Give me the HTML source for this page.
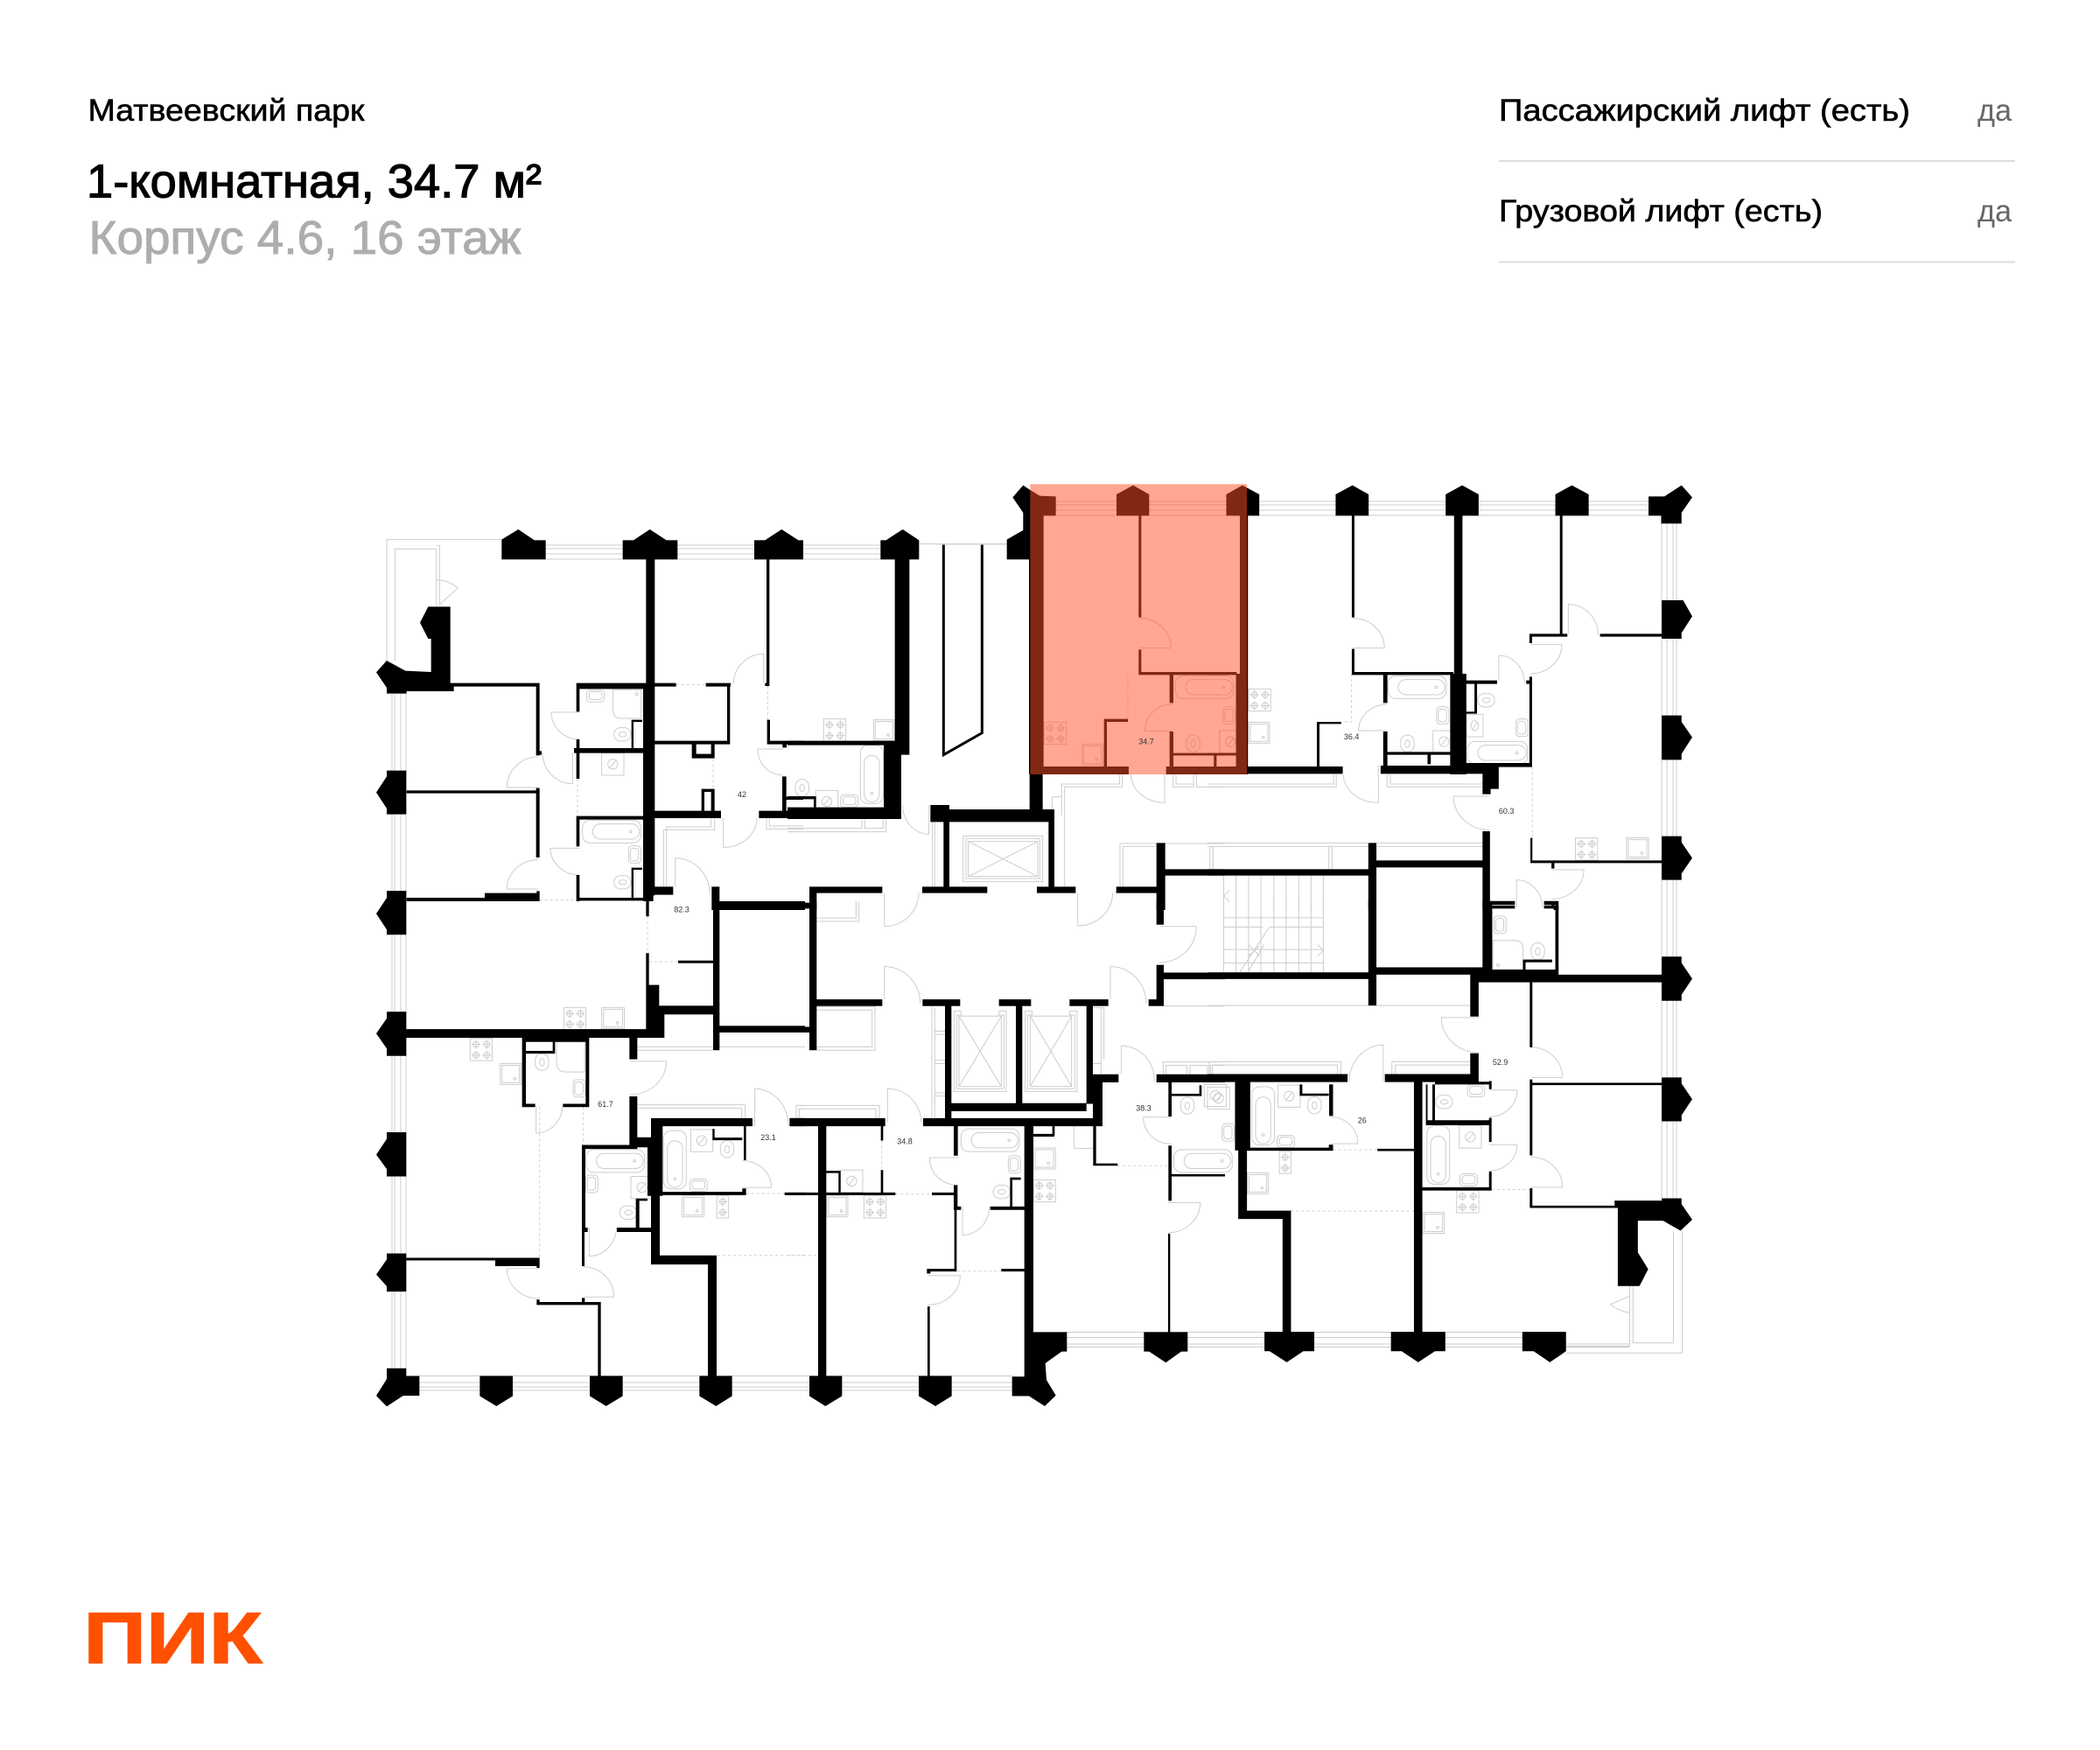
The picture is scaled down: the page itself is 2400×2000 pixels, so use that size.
<!DOCTYPE html>
<html lang="ru"><head><meta charset="utf-8"><title>Планировка</title>
<style>
html,body{margin:0;padding:0;background:#fff}
svg{display:block}
text{font-family:"Liberation Sans","Noto Sans CJK SC",sans-serif}
.l{fill:none;stroke:#cdcdcd;stroke-width:1}
.l path,.l rect,.l circle,.l ellipse,defs *{vector-effect:non-scaling-stroke}
.d{fill:none;stroke:#cfcfcf;stroke-width:1;stroke-dasharray:3 3;vector-effect:non-scaling-stroke}
.lb{font-size:9px;fill:#333;text-anchor:middle}
</style></head><body>
<svg width="2400" height="2000" viewBox="0 0 2400 2000" xmlns="http://www.w3.org/2000/svg">
<defs>
<g id="st"><rect width="76" height="76"/><circle cx="20" cy="20" r="10"/><circle cx="57" cy="20" r="10"/><circle cx="20" cy="57" r="10"/><circle cx="57" cy="57" r="10"/><path d="M5 20H35M20 5V35M42 20H72M57 5V35M5 57H35M20 42V72M42 57H72M57 42V72"/></g>
<g id="st2"><rect width="40" height="76"/><circle cx="20" cy="20" r="10"/><circle cx="20" cy="57" r="10"/><path d="M5 20H35M20 5V35M5 57H35M20 42V72"/></g>
<g id="ov"><rect width="72" height="72"/><rect x="6" y="6" width="60" height="60"/><circle cx="50" cy="52" r="4"/></g>
<g id="wm"><rect width="76" height="76"/><circle cx="38" cy="38" r="17"/><path d="M28 50L48 26"/></g>
<g id="wc"><rect width="58" height="46" rx="23"/><ellipse cx="30" cy="23" rx="13" ry="8"/></g>
<g id="wcv"><rect width="46" height="58" rx="23"/><ellipse cx="23" cy="30" rx="8" ry="13"/></g>
<g id="bh"><rect width="200" height="78" rx="26"/><rect x="35" y="13" width="160" height="52" rx="26"/><circle cx="165" cy="39" r="4"/></g>
<g id="bv"><rect width="78" height="200" rx="26"/><rect x="13" y="35" width="52" height="160" rx="26"/><circle cx="39" cy="165" r="4"/></g>
<g id="si"><rect width="60" height="42" rx="12"/><rect x="8" y="6" width="44" height="28" rx="10"/></g>
<g id="siv"><rect width="42" height="60" rx="12"/><rect x="6" y="8" width="28" height="44" rx="10"/></g>
</defs>

<!-- long window lines -->
<g class="l">
<path d="M448 793V1564M451 793V1564M458 793V1564M464 793V1564"/>
<path d="M1899 598V1370M1905 598V1370M1912 598V1370M1916 598V1370"/>
<path d="M479 1572.5H1157M479 1580H1157M479 1585H1157M479 1589H1157"/>
<path d="M1219 1522.5H1740M1219 1528.5H1740M1219 1536H1862M1219 1539.5H1862"/>
<path d="M1176 573H1884M1176 577H1884M1176 583H1884M1176 589H1884"/>
<path d="M623 623H1030M623 627H1030M623 633H1030M623 639H1030"/>
<path d="M1070 622H1150"/>
</g>

<!-- Z3 -->
<g transform="translate(420,540) scale(.33333,.33333)">
<g class="l">
<path d="M460 230H66V645M94 645V262H236M236 250H247V455M236 262V455M236 368Q275 368 310 396L245 455"/>
<path d="M727 822H630A97 93 0 0 0 727 915M585 975A107 105 0 0 0 478 1080H585M600 960A103 107 0 0 0 703 1067V960M727 1288H627A100 92 0 0 0 727 1380M585 1328A107 100 0 0 0 478 1428H585M1358 722V622A103 103 0 0 0 1255 725M1425 948H1338A87 90 0 0 0 1425 1038M1220 1185V1285A115 100 0 0 0 1335 1185M1055 1420V1322A118 120 0 0 1 1173 1445"/>
<path d="M1190 1185V1225H1015V1420M1178 1185V1215H1025V1420M1368 1185V1222H1494M1378 1185V1212H1494"/>
<path d="M842 745H938V843H870Q842 843 842 815Z"/><circle cx="923" cy="760" r="5"/>
<use href="#si" x="752" y="745"/><use href="#wc" x="845" y="875"/><use href="#wm" x="803" y="962"/><use href="#bh" x="737" y="1192"/><use href="#siv" x="895" y="1280"/><use href="#wc" x="845" y="1382"/>
</g>
<path class="d" d="M1058 728H1160M1372 732V848M1185 982V1085M720 1050V1178M590 1465H716"/>
<path d="M460 230L517 195L572 232H611V298H460ZM875 232H912L968 195L1025 232H1063V298H875ZM1326 232H1363L1420 195L1477 232H1494V298H1326Z
M955 298H985V1450H955ZM945 730H985V1185H945ZM945 1185H980V1470H945ZM965 1420H1048V1448H965Z
M180 515L208 460H284V722H296V750H134V758H66V738L30 685L66 645L130 680L218 684V570H208Z
M296 722H590V734H296ZM578 722H590V970H578ZM580 955H597V968H580Z
M716 722H955V742H716ZM716 722H727V820H716ZM716 915H727V1050H716ZM708 945H955V962H708ZM905 848H912V945H905ZM905 848H942V855H905Z
M578 1082H590V1320H578ZM134 1090H580V1100H134ZM66 1022H133V1172H66V1152L30 1097L66 1042Z
M716 1178H955V1190H716ZM716 1178H727V1282H716ZM716 1380H727V1470H716ZM716 1458H955V1468H716ZM905 1355H912V1458H905ZM905 1355H942V1362H905Z
M580 1435H590V1468H580ZM134 1458H590V1470H134ZM402 1442H590V1470H402Z
M985 722H1058V734H985ZM1160 722H1245V734H1160ZM1233 722H1243V930H1233ZM985 920H1243V932H985ZM1112 930H1127V980H1112ZM1178 930H1190V980H1178ZM1112 965H1190V980H1112ZM1145 1085H1155V1160H1145ZM1178 1085H1190V1160H1178ZM1145 1085H1190V1095H1145ZM985 1160H1212V1185H985Z
M1368 298H1378V732H1368ZM1363 722H1378V732H1363ZM1370 848H1380V930H1370ZM1370 920H1494V932H1370ZM1423 932H1437V943H1423ZM1422 1042H1436V1160H1422ZM1436 1112H1494V1122H1436ZM1342 1160H1494V1185H1342Z
M1180 1420H1207V1500H1180ZM1207 1475H1500V1500H1207Z"/>
</g>

<!-- Z4 -->
<g transform="translate(900,540) scale(.33333,.33333)">
<g class="l">
<path d="M451 245H752"/>
<path d="M395 1140A90 100 0 0 0 485 1240V1140M1210 500A105 102 0 0 1 1315 602H1210M1318 795A93 92 0 0 0 1225 887H1318M1178 1035A115 97 0 0 0 1293 1132V1035"/>
<path d="M1138 1035V1068H940V1175M1148 1035V1078H950V1420M908 1180V1112H940M1322 1035V1078H1392V1035M1332 1035V1068H1392M1402 1035V1078H1500M0 1220H255V1190M265 1190V1220H328V1190M338 1190V1232H0M497 1190V1420M505 1190V1420"/>
<rect x="602" y="1246" width="273" height="157"/><rect x="612" y="1255" width="253" height="137"/><rect x="620" y="1265" width="238" height="120"/><path d="M620 1265L858 1385M858 1265L620 1385"/>
<path d="M1140 1420V1272H1500M1150 1420V1282H1265M1448 1282V1360M1458 1282V1360"/>
<use href="#st" x="124" y="845"/><use href="#ov" x="295" y="848"/><use href="#bv" x="250" y="935"/><use href="#wcv" x="27" y="1052"/><use href="#wm" x="97" y="1090"/><use href="#si" x="182" y="1105"/>
<use href="#st" x="880" y="856"/><use href="#ov" x="1010" y="932"/><use href="#bh" x="1330" y="697"/><use href="#wcv" x="1368" y="900"/><use href="#wm" x="1482" y="885"/>
</g>
<path class="d" d="M1167 692V845"/>
<path d="M319 232H338L395 195L451 232V298H319ZM368 298H418V968H368ZM330 930H390V1188H330ZM0 1148H390V1188H0ZM0 920H368V935H0ZM0 1110H98V1120H0ZM90 1110H98V1148H90Z
M752 230L808 198V138L772 85L808 44L832 60V298H752ZM828 298H832V1035H828Z
M832 60L865 80L920 82V148H832ZM832 148H878V1035H832ZM1128 75L1185 44L1240 75V148H1128Z
M1204 148H1213V497H1204ZM1204 607H1213V690H1204ZM1204 684H1500V694H1204ZM1310 690H1323V790H1310ZM1310 888H1323V1010H1310ZM1323 962H1500V970H1323ZM1462 962H1470V1010H1462ZM878 1008H1170V1035H878ZM1085 848H1095V1010H1085ZM1085 845H1167V855H1085ZM1298 1008H1500V1035H1298Z
M830 1035H875V1198H830ZM490 1140H555V1188H490ZM490 1155H915V1198H490ZM535 1188H555V1420H535ZM895 1178H915V1420H895ZM462 1420H685V1442H462ZM855 1420H988V1442H855Z
M1265 1270H1295V1500H1265ZM1295 1360H1500V1382H1295ZM1127 1420H1265V1442H1127ZM75 1420H100V1500H75ZM100 1420H325V1442H100ZM0 1475H75V1495H0Z"/>
<path fill="none" stroke="#000" stroke-width="3" style="vector-effect:non-scaling-stroke" d="M535 248V968L667 893V248"/>
</g>

<!-- Z5 -->
<g transform="translate(1380,540) scale(.3698,.33333)">
<g class="l">
<path d="M450 500A97 103 0 0 1 547 602H450M555 795A88 90 0 0 0 467 885H555M420 1035A108 97 0 0 0 528 1132V1005M998 590H1095A97 100 0 0 1 998 690M1115 553V452A92 105 0 0 1 1207 557M900 713V627A80 97 0 0 1 980 722M870 1110H760A110 115 0 0 0 870 1225M1065 1362H1163A98 100 0 0 1 1065 1462M955 1490V1397A80 95 0 0 1 1035 1490"/>
<path d="M0 1068H390V1035M0 1078H398V1035M555 1035V1078H850M565 1035V1068H850M0 1270H497M522 1270H850M0 1282H497M522 1282H850M17 1282V1360M375 1282V1360M385 1282V1360"/>
<path d="M50 1382V1500M88 1382V1500M127 1382V1500M165 1382V1500M205 1382V1500M243 1382V1500M282 1382V1500M320 1382V1500M358 1382V1500M68 1432L50 1452L68 1472"/>
<g transform="translate(48,803) scale(.9,1)"><use href="#siv"/></g><g transform="translate(37,885) scale(.9,1)"><use href="#wm"/></g><g transform="translate(127,742) scale(.9,1)"><use href="#st"/></g><g transform="translate(127,856) scale(.9,1)"><use href="#ov"/></g>
<g transform="translate(558,697) scale(.9,1)"><use href="#bh"/></g><g transform="translate(708,803) scale(.9,1)"><use href="#siv"/></g><g transform="translate(597,900) scale(.9,1)"><use href="#wcv"/></g><g transform="translate(697,885) scale(.9,1)"><use href="#wm"/></g>
<g transform="translate(835,758) scale(.9,1)"><use href="#wc"/></g><g transform="translate(800,830) scale(.68,1)"><use href="#wm"/></g><g transform="translate(953,845) scale(.9,1)"><use href="#siv"/></g><g transform="translate(803,922) scale(.93,1)"><use href="#bh"/></g>
<g transform="translate(1137,1253) scale(.9,1)"><use href="#st"/></g><g transform="translate(1295,1253) scale(.95,1)"><use href="#ov"/></g>
</g>
<path class="d" d="M445 690V855H413M1004 1010V1250"/>
<path d="M58 75L108 44L160 75V148H58ZM100 148H125V1035H100ZM88 690H125V1010H88ZM0 684H90V694H0ZM0 1008H100V1035H0ZM20 962H28V1010H20ZM0 962H90V970H0Z
M125 1008H418V1033H125ZM338 855H346V1010H338ZM338 855H413V862H338Z
M396 75L448 44L498 75V148H396ZM446 148H454V497H446ZM446 605H454V690H446ZM446 684H760V694H446ZM543 690H556V790H543ZM543 888H556V1010H543ZM556 958H750V968H556ZM680 968H690V1000H680ZM535 1005H900V1033H535Z
M762 148H788V710H762ZM750 690H800V1035H750ZM736 75L787 44L838 75V148H736Z
M788 713H895V725H788ZM825 725H833V827H825ZM800 820H833V827H800Z
M995 700H1003V1010H995ZM985 713H1003V725H985ZM800 996H1003V1010H800ZM850 1010H900V1085H850ZM850 1085H875V1103H850Z
M1075 75L1126 44L1178 75V148H1075ZM1089 148H1097V555H1089ZM995 553H1112V563H995ZM995 563H1003V585H995ZM1213 553H1404V563H1213Z
M1363 82H1412L1465 44L1498 85L1465 138V175H1402V148H1363ZM1404 438H1470L1498 493L1465 550V570H1404ZM1404 833H1465V855L1498 908L1465 965V985H1404ZM1404 1247H1465V1268L1498 1322L1465 1375V1397H1404Z
M850 1230H873V1500H850ZM998 1253H1004V1335H998ZM998 1330H1404V1339H998ZM1063 1339H1072V1358H1063ZM497 1270H522V1500H497ZM522 1330H850V1354H522ZM0 1360H497V1382H0ZM873 1485H950V1495H873ZM1040 1485H1085V1495H1040ZM1063 1470H1072V1495H1063ZM1070 1495H1085V1500H1070Z"/>
</g>

<!-- Z6 -->
<g transform="translate(420,1030) scale(.33333,.3826)">
<g class="l">
<path d="M900 478H1025A125 100 0 0 1 900 578M1328 672V560A115 110 0 0 1 1443 670M1285 775A100 80 0 0 1 1385 855H1285M578 612V692A90 80 0 0 0 668 612M760 975V1060A93 85 0 0 0 853 975M590 1097H478A110 90 0 0 0 590 1187M740 1092A105 90 0 0 1 845 1182H740"/>
<path d="M925 435H1500M925 445H1185M925 608H1295V648M925 618H1283V648M1470 648V610H1500M1480 648V620H1500"/>
<path d="M648 420H745V510H680Q648 510 648 480Z"/>
<g transform="translate(352,410) scale(1,.87)"><use href="#st"/></g><g transform="translate(455,485) scale(1,.87)"><use href="#ov"/></g><g transform="translate(673,318) scale(1,.87)"><use href="#st"/></g><g transform="translate(803,318) scale(1.08,.87)"><use href="#ov"/></g>
<g transform="translate(575,455) scale(1,.87)"><use href="#wcv"/></g><g transform="translate(705,533) scale(1,.87)"><use href="#siv"/></g><g transform="translate(750,742) scale(1,.87)"><use href="#bh"/></g><g transform="translate(748,818) scale(1,.87)"><use href="#siv"/></g><g transform="translate(903,822) scale(1,.87)"><use href="#wm"/></g><g transform="translate(865,910) scale(1,.87)"><use href="#wc"/></g>
<g transform="translate(1015,685) scale(1,.87)"><use href="#bv"/></g><g transform="translate(1108,682) scale(1,.87)"><use href="#wm"/></g><g transform="translate(1210,715) scale(1,.87)"><use href="#wcv"/></g><g transform="translate(1105,830) scale(1,.87)"><use href="#si"/></g><g transform="translate(1078,880) scale(1.05,.87)"><use href="#ov"/></g><g transform="translate(1198,880) scale(1,.87)"><use href="#st2"/></g>
</g>
<path class="d" d="M590 615V1065M740 615V728M960 45V155M965 181H1065M1298 873H1430M1200 1058H1500"/>
<path d="M66 -31H133V100H66V85L30 37L66 -10ZM66 330H133V462H66V440L30 395L66 350ZM66 690H133V822H66V800L30 757L66 710ZM66 1052H133V1166H66V1150L30 1115L66 1070ZM66 1395H133V1418H178V1477H122L66 1509L30 1477L66 1427Z
M385 1418H498V1478L442 1508L385 1478ZM762 1418H875V1478L818 1508L762 1478ZM1138 1418H1250V1478L1195 1508L1138 1478Z
M133 382H1018V408H133ZM955 250H1000V312H1185V338H1018V408H955ZM955 0H965V45H955ZM955 155H965V250H955ZM1065 177H1185V185H1065ZM1185 0H1207V445H1185ZM1207 0H1500V25H1207ZM1207 372H1500V392H1207Z
M530 408H760V420H530ZM530 420H543V615H530ZM530 605H575V615H530ZM670 605H760V615H670ZM748 408H760V615H748ZM635 420H643V455H635ZM543 447H640V455H543Z
M898 408H925V472H898ZM898 583H925V730H898ZM925 705H975V735H925ZM735 728H925V740H735ZM735 740H747V975H735ZM735 975H755V988H735ZM735 988H744V1090H735ZM855 975H975V988H855ZM920 888H932V975H920ZM920 888H960V895H920Z
M972 648H1012V880H972ZM972 648H1320V672H972ZM960 735H1012V880H960ZM972 880H1002V1085H972ZM1000 868H1290V878H1000ZM1285 858H1298V878H1285ZM1290 672H1298V773H1290ZM1183 680H1190V712H1183ZM1183 706H1285V714H1183ZM1430 870H1500V878H1430ZM1447 648H1500V672H1447Z
M972 1058H1195V1085H972ZM1167 1058H1197V1420H1167Z
M133 1065H590V1073H133ZM438 1065H590V1090H438ZM580 1090H590V1095H580ZM580 1197H800V1206H580ZM580 1190H590V1205H580ZM735 1185H745V1200H735ZM790 1197H800V1420H790Z"/>
</g>

<!-- Z7 -->
<g transform="translate(900,1030) scale(.33333,.3826)">
<g class="l">
<path d="M332 -25V75A118 100 0 0 0 450 -25M995 -25V73A118 98 0 0 0 1115 -25M1275 75H1402A125 108 0 0 1 1275 183M332 293V195A122 110 0 0 1 455 305M1107 293V195A122 112 0 0 1 1230 307M1145 517V432A112 100 0 0 1 1257 540M343 660V560A115 100 0 0 1 458 660M585 766H487A98 80 0 0 0 585 848M600 912V997A92 85 0 0 0 692 912M480 1118H592A112 88 0 0 1 480 1206M1315 645H1220A95 80 0 0 0 1315 725M1305 900H1415A110 90 0 0 1 1305 990"/>
<path d="M100 60H245V0M100 50H235V0M100 315H300V445H100M100 325H290V435H100M30 648V610H315V648M40 648V620H303V648"/>
<path d="M495 313V645M505 318V645M505 388H540M505 398H540M505 475H540M505 485H540M505 572H540M505 582H540M1047 318H1085V472M1075 318V515M1047 485H1075"/>
<rect x="588" y="343" width="145" height="210"/><path d="M588 343L733 553M733 343L588 553"/><path d="M572 328H595V340H580V560H742V340H725V328H750V568H572Z"/>
<rect x="832" y="343" width="142" height="210"/><path d="M832 343L974 553M974 343L832 553"/><path d="M815 328H838V340H823V560H985V340H968V328H993V568H815Z"/>
<path d="M1290 313H1500M1288 517V480H1500M1298 517V490H1370V517M1380 517V490H1440V517M1450 517V490H1500M982 672V738H1048"/>
<g transform="translate(595,680) scale(1,.87)"><use href="#bh"/></g><g transform="translate(757,760) scale(1,.87)"><use href="#siv"/></g><g transform="translate(705,848) scale(1,.87)"><use href="#wc"/></g><g transform="translate(843,737) scale(1.05,.87)"><use href="#ov"/></g><g transform="translate(843,832) scale(1,.87)"><use href="#st"/></g>
<g transform="translate(182,803) scale(1,.87)"><use href="#wm"/></g><g transform="translate(135,880) scale(1,.87)"><use href="#ov"/></g><g transform="translate(262,880) scale(1,.87)"><use href="#st"/></g><g transform="translate(1348,585) scale(1,.87)"><use href="#wcv"/></g><g transform="translate(1440,555) scale(1,.87)"><use href="#wm"/></g><g transform="translate(1325,742) scale(1,.87)"><use href="#bh"/></g>
</g>
<path class="d" d="M323 715V803M370 875H495M583 1105H733M1132 790H1305M0 1058H105"/>
<path d="M75 0H100V445H75ZM0 375H75V392H0ZM100 293H325V313H100ZM463 293H592V313H463ZM725 293H835V313H725ZM967 293H1100V313H967ZM1238 293H1290V313H1238ZM1265 190H1290V313H1265ZM1265 0H1290V70H1265ZM1290 213H1500V233H1290Z
M540 313H562V650H540ZM783 313H805V605H783ZM1025 313H1047V605H1025ZM1045 517H1135V541H1045ZM1047 541H1080V670H1047ZM562 603H1025V627H562ZM465 648H1080V672H465ZM1053 627H1080V648H1053Z
M8 648H335V672H8ZM105 672H133V1420H105ZM320 672H328V715H320ZM320 803H328V875H320ZM0 870H370V878H0ZM133 805H180V812H133ZM175 805H182V870H175ZM495 870H583V878H495ZM570 848H583V915H570ZM570 912H595V922H570ZM572 922H580V1100H572ZM480 1098H580V1106H480ZM478 1098H490V1112H478ZM480 1210H488V1420H480ZM570 672H584V760H570Z
M695 912H812V922H695ZM763 825H771V912H763ZM763 825H800V832H763Z
M812 672H843V1420H812ZM812 1420H770V1478H828L882 1508L920 1476L888 1430L884 1380L940 1345H958V1287H843V1420Z
M733 1098H812V1106H733ZM843 695H915V703H843ZM908 672H916V700H908ZM1048 672H1058V790H1048ZM1048 783H1132V790H1048Z
M1222 1287H1372V1345H1350L1297 1378L1240 1345H1222ZM75 1418H187V1478L130 1508L75 1478ZM450 1418H563V1478L507 1508L450 1478Z
M1265 517H1500V541H1265ZM1306 541H1317V643H1306ZM1306 730H1317V895H1306ZM1305 993H1312V1290H1305ZM1312 815H1500V822H1312ZM1412 550H1420V580H1412ZM1317 575H1420V582H1317Z"/>
</g>

<!-- Z8 -->
<g transform="translate(1380,1029.7) scale(.3698,.3826)">
<g class="l">
<path d="M0 312H812M5 517V480H412V517M15 517V490H402V517M570 517V480H812M580 517V490H812"/>
<path d="M543 540V430A105 110 0 0 0 438 540M838 348H723A115 105 0 0 0 838 453M1000 437A97 90 0 0 1 1097 527H1000M870 565H957A87 80 0 0 1 870 645M870 728H957A87 78 0 0 1 870 806M1000 765A97 90 0 0 1 1097 855H1000M380 645A85 80 0 0 1 465 725H380"/>
<path d="M50 0V212M88 0V212M127 0V212M165 0V212M205 0V212M243 0V212M282 0V212M320 0V212M358 0V212M50 50H358M50 78H170M190 78H358M50 145H358M50 185H358M100 212L190 80M125 212L175 130M125 130L145 148L125 165M160 135L145 148L160 165M340 130L358 148L340 165"/>
<path d="M1108 1350H1467V985M1305 1150V1330H1108M1315 1150V1320H1440V985M1305 1180L1245 1205Q1270 1225 1305 1230"/>
<path d="M882 118H950Q975 118 975 145V205H882Z"/><circle cx="898" cy="192" r="4"/>
<g transform="translate(885,45) scale(.9,.87)"><use href="#siv"/></g><g transform="translate(1000,125) scale(.9,.87)"><use href="#wcv"/></g><g transform="translate(-10,548) scale(.9,.87)"><use href="#wm"/></g><g transform="translate(218,550) scale(.9,.87)"><use href="#wm"/></g><g transform="translate(137,555) scale(.9,.87)"><use href="#bv"/></g><g transform="translate(310,585) scale(.9,.87)"><use href="#wcv"/></g><g transform="translate(215,700) scale(.9,.87)"><use href="#si"/></g><g transform="translate(222,748) scale(.9,.87)"><use href="#st2"/></g><g transform="translate(123,812) scale(.9,.87)"><use href="#ov"/></g>
<g transform="translate(45,665) scale(.9,.87)"><use href="#siv"/></g>
<g transform="translate(778,672) scale(.9,.87)"><use href="#wm"/></g><g transform="translate(678,672) scale(.9,.87)"><use href="#bv"/></g><g transform="translate(780,815) scale(.9,.87)"><use href="#si"/></g><g transform="translate(803,548) scale(.9,.87)"><use href="#si"/></g><g transform="translate(705,580) scale(.9,.87)"><use href="#wc"/></g><g transform="translate(770,865) scale(.9,.87)"><use href="#st"/></g><g transform="translate(665,930) scale(.93,.87)"><use href="#ov"/></g>
</g>
<path class="d" d="M388 743H525M258 926H638M878 862H996"/>
<path d="M0 213H500V233H0ZM497 0H522V312H497ZM522 198H850V220H522ZM850 0H880V235H850ZM812 220H1404V243H812ZM812 220H838V345H812ZM812 455H838V545H812ZM1075 10H1085V220H1075ZM975 175H1065V183H975ZM975 183H983V210H975ZM880 205H1075V220H880ZM880 0H950V12H880ZM1040 0H1085V12H1040Z
M1404 166H1465V185L1498 232L1465 280V298H1404Z
M996 243H1004V437H996ZM996 533H1004V760H996ZM996 858H1004V917H996ZM1004 543H1404V550H1004ZM996 910H1270V917H996Z
M1258 895H1404V888H1465V905L1498 952L1462 985L1408 955H1330V1050L1362 1100L1335 1150H1268V915H1258ZM1404 527H1465V545L1498 592L1465 640V658H1404Z
M0 517H433V541H0ZM548 517H838V541H548ZM85 541H132V745H85ZM95 745H122V950H95ZM95 925H258V950H95ZM232 925H258V1290H232ZM122 737H388V746H122ZM375 728H388V746H375ZM376 548H388V642H376ZM285 548H293V580H285ZM285 575H375V582H285Z
M525 740H640V747H525ZM638 541H664V1290H638ZM695 548H703V655H695ZM675 548H680V655H675ZM675 655H878V670H675ZM870 538H878V562H870ZM703 540H870V548H703ZM870 648H878V720H870ZM870 808H878V865H870ZM664 855H878V865H664Z
M176 1287H330V1345H296L245 1378L192 1345H176ZM567 1287H735V1345H703L651 1378L600 1345H567ZM973 1287H1108V1345L1058 1378L1008 1345H973Z"/>
</g>

<!-- highlight -->
<rect x="1177.3" y="553.3" width="247.8" height="331.7" fill="#ff5028" fill-opacity=".5"/>

<!-- area labels -->
<g class="lb">
<text x="1310" y="850.5">34.7</text>
<text x="848" y="911">42</text>
<text x="779" y="1042.6">82.3</text>
<text x="1544.6" y="845">36.4</text>
<text x="1721.7" y="930">60.3</text>
<text x="692" y="1265">61.7</text>
<text x="878" y="1303">23.1</text>
<text x="1034" y="1307.7">34.8</text>
<text x="1307" y="1269.4">38.3</text>
<text x="1556.8" y="1283.3">26</text>
<text x="1714.7" y="1217">52.9</text>
</g>

<!-- header -->
<text x="100.5" y="138" font-size="35" textLength="316" lengthAdjust="spacingAndGlyphs" fill="#000" stroke="#000" stroke-width=".6">Матвеевский парк</text>
<text x="99" y="225.5" font-size="54" textLength="520" lengthAdjust="spacingAndGlyphs" fill="#000" stroke="#000" stroke-width="1.2">1-комнатная, 34.7 м²</text>
<text x="101.5" y="290" font-size="54" textLength="494" lengthAdjust="spacingAndGlyphs" fill="#adadad" stroke="#adadad" stroke-width="1">Корпус 4.6, 16 этаж</text>
<text x="1713" y="138" font-size="35" textLength="470" lengthAdjust="spacingAndGlyphs" fill="#000" stroke="#000" stroke-width=".6">Пассажирский лифт (есть)</text>
<text x="2260" y="138" font-size="35" textLength="39" lengthAdjust="spacingAndGlyphs" fill="#666">да</text>
<rect x="1722" y="183" width="0" height="0" fill="#ddd"/>
<rect x="1713" y="183" width="590" height="2" fill="#ddd"/>
<text x="1713" y="253" font-size="35" textLength="370" lengthAdjust="spacingAndGlyphs" fill="#000" stroke="#000" stroke-width=".6">Грузовой лифт (есть)</text>
<text x="2260" y="253" font-size="35" textLength="39" lengthAdjust="spacingAndGlyphs" fill="#666">да</text>
<rect x="1713" y="298.5" width="590" height="2" fill="#ddd"/>

<!-- logo -->
<text x="95.5" y="1900.5" font-size="83" font-weight="700" textLength="204" lengthAdjust="spacingAndGlyphs" fill="#ff5000" stroke="#ff5000" stroke-width="1.5">ПИК</text>
</svg>
</body></html>
